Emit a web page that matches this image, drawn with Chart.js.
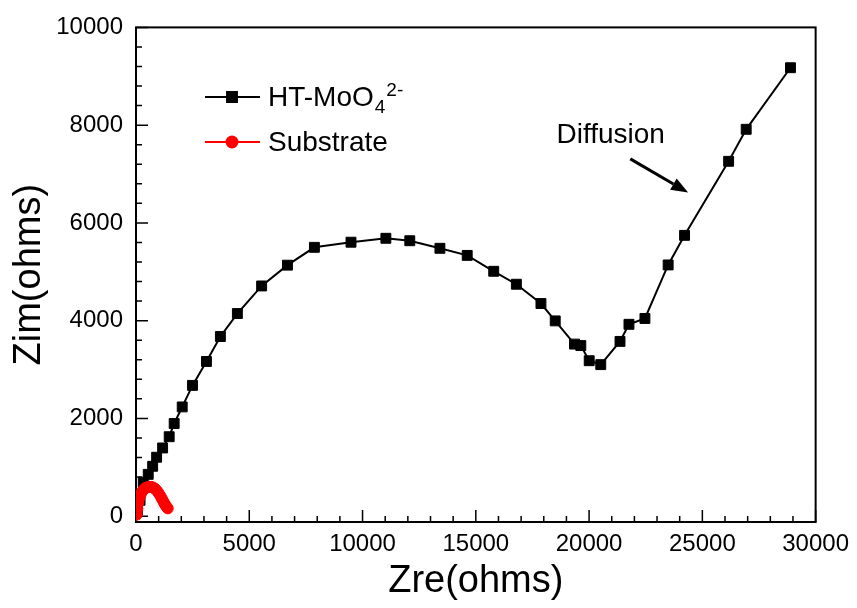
<!DOCTYPE html>
<html lang="en">
<head>
    <meta charset="UTF-8">
    <title>Nyquist plot - HT-MoO4 vs Substrate</title>
    <script src="https://cdn.jsdelivr.net/npm/chart.js@4.4.0/dist/chart.umd.min.js"></script>
    <style>
        html, body { margin: 0; padding: 0; background: #fff; }
        .chart-box { position: relative; width: 857px; height: 608px; }
    </style>
</head>
<body>
    <div class="chart-box">
        <canvas id="eisChart"></canvas>
    </div>

    <script>
        // Values (ohms)
        const htZre = [60, 180, 320, 540, 735, 910, 1175, 1465, 1685, 2040, 2495, 3110, 3725, 4475, 5545, 6685, 7875, 9490, 11030, 12085, 13415, 14620, 15790, 16790, 17875, 18505, 19355, 19635, 20005, 20515, 21365, 21760, 22465, 23490, 24215, 26160, 26935, 28890];
        const htZim = [120, 325, 695, 855, 1020, 1205, 1395, 1625, 1895, 2235, 2675, 3165, 3675, 4145, 4710, 5135, 5500, 5605, 5685, 5635, 5480, 5335, 5010, 4745, 4350, 3995, 3520, 3490, 3180, 3100, 3575, 3925, 4045, 5140, 5745, 7260, 7915, 9175];

        const subZre = [30, 60, 100, 150, 210, 280, 360, 440, 520, 600, 680, 760, 840, 920, 1000, 1080, 1150, 1220, 1280, 1340, 1400];
        const subZim = [30, 150, 270, 370, 450, 510, 555, 580, 595, 600, 598, 585, 560, 520, 470, 410, 350, 290, 240, 195, 160];

        const xMajorTicks = [0, 5000, 10000, 15000, 20000, 25000, 30000];
        const yMajorTicks = [0, 2000, 4000, 6000, 8000, 10000];

        const FONT = '"Liberation Sans", Arial, Helvetica, sans-serif';
        Chart.defaults.font.family = FONT;
        Chart.defaults.color = '#000';

        // majors plus 4 minor ticks between each pair
        function withMinors(majors, parts) {
            const out = [];
            for (let i = 0; i < majors.length - 1; i++) {
                const step = (majors[i + 1] - majors[i]) / parts;
                for (let k = 0; k < parts; k++) out.push(majors[i] + k * step);
            }
            out.push(majors[majors.length - 1]);
            return out;
        }

        const toPoints = (xs, ys) => xs.map((x, i) => ({ x: x, y: ys[i] }));

        // box round the plot plus inward tick marks
        const framePlugin = {
            id: 'frame',
            beforeDatasetsDraw(chart) {
                const { ctx, chartArea: a, scales: { x, y } } = chart;
                ctx.save();
                ctx.strokeStyle = '#000';
                ctx.lineWidth = 1.5;
                ctx.beginPath();
                x.ticks.forEach(t => {
                    const px = x.getPixelForValue(t.value);
                    const len = xMajorTicks.includes(t.value) ? 12 : 6;
                    ctx.moveTo(px, a.bottom);
                    ctx.lineTo(px, a.bottom - len);
                });
                y.ticks.forEach(t => {
                    const py = y.getPixelForValue(t.value);
                    const len = yMajorTicks.includes(t.value) ? 12 : 6;
                    ctx.moveTo(a.left, py);
                    ctx.lineTo(a.left + len, py);
                });
                ctx.stroke();
                ctx.lineWidth = 2;
                ctx.strokeRect(a.left, a.top, a.right - a.left, a.bottom - a.top);
                ctx.restore();
            }
        };

        // legend drawn by hand because of the sub/superscript
        const legendPlugin = {
            id: 'eisLegend',
            afterDraw(chart) {
                const ctx = chart.ctx;
                const rows = [
                    { ds: chart.data.datasets[0], y: 97, parts: [['HT-MoO', 0], ['4', 1], ['2-', -1]] },
                    { ds: chart.data.datasets[1], y: 142, parts: [['Substrate', 0]] }
                ];
                ctx.save();
                rows.forEach(r => {
                    ctx.strokeStyle = r.ds.borderColor;
                    ctx.fillStyle = r.ds.pointBackgroundColor;
                    ctx.lineWidth = 2;
                    ctx.beginPath();
                    ctx.moveTo(205, r.y);
                    ctx.lineTo(260, r.y);
                    ctx.stroke();
                    Chart.helpers.drawPoint(ctx, {
                        pointStyle: r.ds.pointStyle,
                        radius: r.ds.pointRadius,
                        rotation: 0,
                        borderWidth: 1
                    }, 232, r.y);

                    ctx.fillStyle = '#000';
                    ctx.textBaseline = 'alphabetic';
                    ctx.textAlign = 'left';
                    let tx = 268;
                    let lastMainX = tx;
                    r.parts.forEach(([txt, kind]) => {
                        if (kind === 0) {
                            ctx.font = '28px ' + FONT;
                            ctx.fillText(txt, tx, r.y + 9);
                            tx += ctx.measureText(txt).width;
                            lastMainX = tx;
                        } else if (kind === 1) {
                            ctx.font = '19px ' + FONT;
                            ctx.fillText(txt, lastMainX + 1, r.y + 16);
                            tx = lastMainX + 1 + ctx.measureText(txt).width;
                        } else {
                            ctx.font = '19px ' + FONT;
                            ctx.fillText(txt, tx + 1, r.y - 1);
                        }
                    });
                });
                ctx.restore();
            }
        };

        // "Diffusion" label and arrow, placed in data units
        const notePlugin = {
            id: 'diffusionNote',
            afterDatasetsDraw(chart) {
                const { ctx, scales: { x, y } } = chart;
                ctx.save();
                ctx.fillStyle = '#000';
                ctx.strokeStyle = '#000';
                ctx.font = '28px ' + FONT;
                ctx.textAlign = 'left';
                ctx.textBaseline = 'alphabetic';
                ctx.fillText('Diffusion', x.getPixelForValue(18560), y.getPixelForValue(7630));

                const x0 = x.getPixelForValue(21820), y0 = y.getPixelForValue(7310);
                const x1 = x.getPixelForValue(24370), y1 = y.getPixelForValue(6620);
                const ang = Math.atan2(y1 - y0, x1 - x0);
                const headLen = 17, headHalf = 6.5;
                const bx = x1 - headLen * Math.cos(ang), by = y1 - headLen * Math.sin(ang);
                ctx.lineWidth = 3;
                ctx.beginPath();
                ctx.moveTo(x0, y0);
                ctx.lineTo(bx, by);
                ctx.stroke();
                ctx.beginPath();
                ctx.moveTo(x1, y1);
                ctx.lineTo(bx + headHalf * Math.sin(ang), by - headHalf * Math.cos(ang));
                ctx.lineTo(bx - headHalf * Math.sin(ang), by + headHalf * Math.cos(ang));
                ctx.closePath();
                ctx.fill();
                ctx.restore();
            }
        };

        const ctx = document.getElementById('eisChart').getContext('2d');
        new Chart(ctx, {
            type: 'scatter',
            data: {
                datasets: [{
                    label: 'HT-MoO4 2-',
                    data: toPoints(htZre, htZim),
                    showLine: true,
                    borderColor: '#000',
                    borderWidth: 2,
                    pointStyle: 'rect',
                    pointRadius: 7,
                    pointBackgroundColor: '#000',
                    pointBorderColor: '#000',
                    pointBorderWidth: 1,
                    tension: 0,
                    order: 1
                }, {
                    label: 'Substrate',
                    data: toPoints(subZre, subZim),
                    showLine: true,
                    borderColor: '#ff0000',
                    borderWidth: 2,
                    pointStyle: 'circle',
                    pointRadius: 5.5,
                    pointBackgroundColor: '#ff0000',
                    pointBorderColor: '#ff0000',
                    pointBorderWidth: 1,
                    tension: 0,
                    order: 0
                }]
            },
            options: {
                responsive: true,
                maintainAspectRatio: false,
                animation: false,
                layout: { padding: { top: 24, right: 39, left: 0, bottom: 0 } },
                plugins: {
                    legend: { display: false },
                    tooltip: { enabled: false }
                },
                scales: {
                    x: {
                        type: 'linear',
                        min: 0,
                        max: 30000,
                        afterBuildTicks: s => { s.ticks = withMinors(xMajorTicks, 5).map(v => ({ value: v })); },
                        afterFit: s => { s.height = 86; },
                        grid: { display: false, drawTicks: false },
                        border: { display: false },
                        ticks: {
                            autoSkip: false,
                            maxRotation: 0,
                            padding: 8,
                            font: { size: 24 },
                            callback: v => xMajorTicks.includes(v) ? String(v) : ''
                        },
                        title: {
                            display: true,
                            text: 'Zre(ohms)',
                            font: { size: 38, lineHeight: 1.2 },
                            padding: { top: 0, bottom: 4 }
                        }
                    },
                    y: {
                        type: 'linear',
                        min: -120,
                        max: 10000,
                        afterBuildTicks: s => { s.ticks = withMinors(yMajorTicks, 5).map(v => ({ value: v })); },
                        afterFit: s => { s.width = 136; },
                        grid: { display: false, drawTicks: false },
                        border: { display: false },
                        ticks: {
                            autoSkip: false,
                            padding: 13,
                            font: { size: 24 },
                            callback: v => yMajorTicks.includes(v) ? String(v) : ''
                        },
                        title: {
                            display: true,
                            text: 'Zim(ohms)',
                            font: { size: 38, lineHeight: 1.2 },
                            padding: { top: 7, bottom: 0 }
                        }
                    }
                }
            },
            plugins: [framePlugin, notePlugin, legendPlugin]
        });
    </script>
</body>
</html>
